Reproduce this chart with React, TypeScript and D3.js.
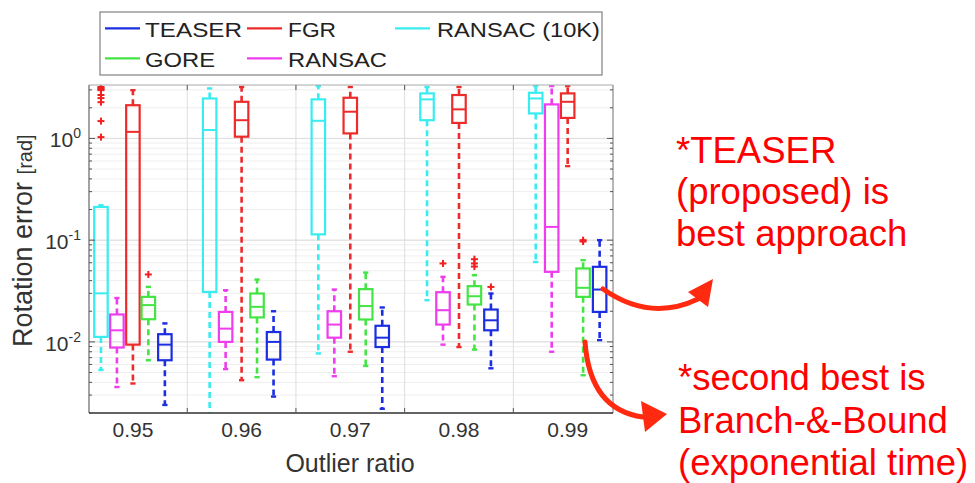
import React from "react";
import * as d3 from "d3";

// ---------- data ----------
const RATIOS = ["0.95", "0.96", "0.97", "0.98", "0.99"];
const SERIES = ["RANSAC (10K)", "RANSAC", "FGR", "GORE", "TEASER"]; // left-to-right in each group
const LEGEND_ORDER = ["TEASER", "FGR", "RANSAC (10K)", "GORE", "RANSAC"];

// [lower whisker, q1, median, q3, upper whisker] per outlier ratio
const ransac10k = [
  [0.0053, 0.0112, 0.03, 0.212, 0.22],
  [0.0015, 0.031, 1.21, 2.47, 3.1],
  [0.0077, 0.114, 1.49, 2.42, 3.27],
  [0.0257, 1.51, 2.42, 2.77, 3.2],
  [0.061, 1.76, 2.47, 2.81, 3.27],
];
const ransac = [
  [0.0036, 0.0088, 0.013, 0.0186, 0.027],
  [0.0054, 0.01, 0.0135, 0.0197, 0.0322],
  [0.0046, 0.011, 0.0148, 0.02, 0.0327],
  [0.0094, 0.0148, 0.0205, 0.0308, 0.0436],
  [0.008, 0.0488, 0.135, 2.16, 3.27],
];
const fgr = [
  [0.0039, 0.0094, 1.16, 2.12, 2.98],
  [0.0042, 1.04, 1.51, 2.29, 3.2],
  [0.008, 1.12, 1.83, 2.51, 3.2],
  [0.0089, 1.42, 1.93, 2.67, 3.2],
  [0.534, 1.59, 2.29, 2.77, 3.27],
];
const gore = [
  [0.0066, 0.0167, 0.023, 0.0277, 0.0347],
  [0.0045, 0.0174, 0.0221, 0.0299, 0.041],
  [0.0058, 0.0166, 0.0225, 0.033, 0.048],
  [0.0084, 0.0233, 0.0281, 0.0353, 0.0453],
  [0.0047, 0.0277, 0.034, 0.0527, 0.0636],
];
const teaser = [
  [0.0024, 0.0066, 0.0094, 0.0119, 0.0152],
  [0.0029, 0.0067, 0.01, 0.0125, 0.02],
  [0.0022, 0.0089, 0.011, 0.0144, 0.0218],
  [0.0055, 0.013, 0.0163, 0.0208, 0.0299],
  [0.0104, 0.0197, 0.0327, 0.0547, 0.1],
];
const STATS = [ransac10k, ransac, fgr, gore, teaser];

// outliers: [series index, group index, values]
const OUTLIERS: [number, number, number[]][] = [
  [0, 0, [3.2, 3.12, 3.05, 2.98, 2.67, 2.49, 2.27, 1.48, 1.03]],
  [3, 0, [0.046]],
  [1, 3, [0.059]],
  [3, 3, [0.065, 0.059, 0.055]],
  [4, 3, [0.0347]],
  [3, 4, [0.097, 0.1]],
];

const Y_TICKS = [1, 0.1, 0.01];
const Y_TICK_EXP = ["0", "-1", "-2"];

// ---------- styles ----------
const COLORS: Record<string, string> = {
  "RANSAC (10K)": "#38ecf0",
  RANSAC: "#ee3cee",
  FGR: "#ee2b2b",
  GORE: "#44e444",
  TEASER: "#1b2ee0",
};
const FONT = "'Liberation Sans', Arial, Helvetica, sans-serif";
const W = 975;
const H = 483;
const L = 89, R = 613, T = 85, B = 413;

export default function App() {
  const x = d3.scaleLinear().domain([-0.404, 4.417]).range([L, R]);
  const y = d3.scaleLog().domain([0.002, 3.35]).range([B, T]);
  const offsets = [-0.294, -0.147, 0, 0.142, 0.294];
  const halfBox = 0.062;
  const capHalf = 0.024;

  const minor: number[] = [];
  for (let k = -3; k <= 0; k++) {
    for (let m = 1; m <= 9; m++) {
      const v = m * Math.pow(10, k);
      if (v >= 0.002 && v <= 3.35) minor.push(v);
    }
  }
  const separators = d3.range(RATIOS.length - 1).map((i) => i + 0.5);

  const legendPos = [
    { x1: 105, y: 28.3, tx: 145, ty: 36.7, len: 97 },
    { x1: 247, y: 28.3, tx: 288, ty: 36.7, len: 48 },
    { x1: 395, y: 28.3, tx: 437, ty: 36.7, len: 163 },
    { x1: 105, y: 58.3, tx: 145, ty: 66.7, len: 70 },
    { x1: 247, y: 58.3, tx: 288, ty: 66.7, len: 99 },
  ];

  return (
    <svg
      width={W}
      height={H}
      style={{ position: "absolute", left: 0, top: 0, background: "#fff" }}
      fontFamily={FONT}
    >
      <defs>
        <clipPath id="plotclip">
          <rect x={L} y={T} width={R - L} height={B - T} />
        </clipPath>
      </defs>
      <rect x={0} y={0} width={W} height={H} fill="#fff" />

      {/* grid */}
      <g>
        {minor.map((v, i) => (
          <line key={"mg" + i} x1={L} x2={R} y1={y(v)} y2={y(v)} stroke="#eeeeee" strokeWidth={1} />
        ))}
        {Y_TICKS.map((v, i) => (
          <line key={"Mg" + i} x1={L} x2={R} y1={y(v)} y2={y(v)} stroke="#dcdcdc" strokeWidth={1} />
        ))}
        {separators.map((s, i) => (
          <line key={"sg" + i} x1={x(s)} x2={x(s)} y1={T} y2={B} stroke="#dedede" strokeWidth={1} />
        ))}
      </g>

      {/* boxes */}
      <g clipPath="url(#plotclip)">
        {STATS.map((series, si) =>
          series.map((st, gi) => {
            const c = COLORS[SERIES[si]];
            const cx = x(gi + offsets[si]);
            const x0 = x(gi + offsets[si] - halfBox);
            const x1 = x(gi + offsets[si] + halfBox);
            const cx0 = x(gi + offsets[si] - capHalf);
            const cx1 = x(gi + offsets[si] + capHalf);
            const [lo, q1, md, q3, hi] = st;
            return (
              <g key={`b${si}-${gi}`} stroke={c} fill="none">
                <line x1={cx} x2={cx} y1={y(q1)} y2={y(lo)} strokeWidth={2.6} strokeDasharray="6,4" />
                <line x1={cx} x2={cx} y1={y(q3)} y2={y(hi)} strokeWidth={2.6} strokeDasharray="6,4" />
                <line x1={cx0} x2={cx1} y1={y(lo)} y2={y(lo)} strokeWidth={2.4} />
                <line x1={cx0} x2={cx1} y1={y(hi)} y2={y(hi)} strokeWidth={2.4} />
                <rect x={x0} y={y(q3)} width={x1 - x0} height={y(q1) - y(q3)} strokeWidth={2.2} />
                <line x1={x0} x2={x1} y1={y(md)} y2={y(md)} strokeWidth={2} />
              </g>
            );
          })
        )}
        {OUTLIERS.map(([si, gi, vals], k) =>
          vals.map((v, j) => {
            const cx = x(gi + offsets[si]);
            const cy = y(v);
            return (
              <g key={`o${k}-${j}`} stroke="#f02020" strokeWidth={2}>
                <line x1={cx - 3.5} x2={cx + 3.5} y1={cy} y2={cy} />
                <line x1={cx} x2={cx} y1={cy - 3.5} y2={cy + 3.5} />
              </g>
            );
          })
        )}
      </g>

      {/* axes frame */}
      <line x1={L} x2={R} y1={T} y2={T} stroke="#aaa" strokeWidth={1.2} />
      <line x1={R} x2={R} y1={T} y2={B} stroke="#888" strokeWidth={1.2} />
      <line x1={L} x2={L} y1={T} y2={B} stroke="#666" strokeWidth={1.2} />
      <line x1={L} x2={R} y1={B} y2={B} stroke="#333" strokeWidth={1.4} />

      {/* y ticks */}
      {minor.map((v, i) => {
        const major = Y_TICKS.includes(v);
        const len = major ? 6 : 3;
        return (
          <g key={"yt" + i} stroke="#555" strokeWidth={1}>
            <line x1={L} x2={L + len} y1={y(v)} y2={y(v)} />
            <line x1={R} x2={R - len} y1={y(v)} y2={y(v)} />
          </g>
        );
      })}
      {/* x ticks at separators */}
      {separators.map((s, i) => (
        <g key={"xt" + i} stroke="#555" strokeWidth={1}>
          <line x1={x(s)} x2={x(s)} y1={B} y2={B - 5} />
          <line x1={x(s)} x2={x(s)} y1={T} y2={T + 5} />
        </g>
      ))}

      {/* y tick labels */}
      {Y_TICKS.map((v, i) => (
        <text key={"yl" + i} x={L - 8} y={y(v) + 9} textAnchor="end" fill="#333" fontSize={21}>
          10
          <tspan dy={-9} fontSize={14}>{Y_TICK_EXP[i]}</tspan>
        </text>
      ))}

      {/* x tick labels */}
      {RATIOS.map((r, i) => (
        <text key={"xl" + i} x={x(i)} y={437} textAnchor="middle" fill="#333" fontSize={21}>
          {r}
        </text>
      ))}

      {/* axis titles */}
      <text x={350} y={472} textAnchor="middle" fill="#333" fontSize={25}>
        Outlier ratio
      </text>
      <text transform="translate(32,347) rotate(-90)" textAnchor="start" fill="#333" fontSize={27}>
        Rotation error <tspan fontSize={20}>[rad]</tspan>
      </text>

      {/* legend */}
      <rect x={100} y={12} width={502} height={63} fill="#fff" stroke="#808080" strokeWidth={1.2} />
      {LEGEND_ORDER.map((name, i) => {
        const p = legendPos[i];
        return (
          <g key={"lg" + i}>
            <line x1={p.x1} x2={p.x1 + 35} y1={p.y} y2={p.y} stroke={COLORS[name]} strokeWidth={2.2} />
            <text
              x={p.tx}
              y={p.ty}
              fontSize={21}
              fill="#222"
              textLength={p.len}
              lengthAdjust="spacingAndGlyphs"
            >
              {name}
            </text>
          </g>
        );
      })}

      {/* annotations */}
      <g fill="#ff0000" fontSize={36.5}>
        <text x={676} y={163}>*TEASER</text>
        <text x={676} y={204}>(proposed) is</text>
        <text x={676} y={246}>best approach</text>
        <text x={678} y={390}>*second best is</text>
        <text x={678} y={433}>Branch-&amp;-Bound</text>
        <text x={678} y={475}>(exponential time)</text>
      </g>
      <g stroke="#ff2a10" strokeWidth={5} fill="none" strokeLinecap="round">
        <path d="M603,289 Q650,322 698,299" />
        <path d="M585,342 Q590,410 643,417" />
      </g>
      <g fill="#ff2a10">
        <polygon points="713,279 688,292 708,307" />
        <polygon points="667,414 641,401 645,432" />
      </g>
    </svg>
  );
}
